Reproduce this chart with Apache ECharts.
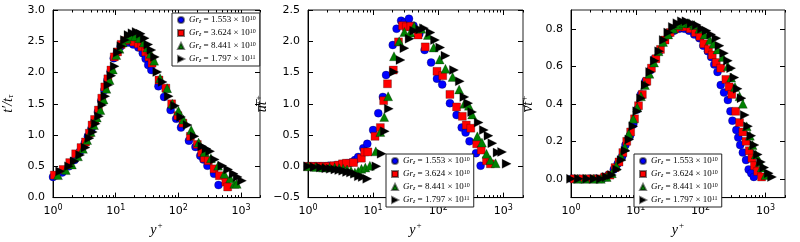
<!DOCTYPE html>
<html>
<head>
<meta charset="utf-8">
<script src="https://cdn.jsdelivr.net/npm/echarts@6/dist/echarts.min.js"></script>
<style>
html, body { margin: 0; padding: 0; background: #fff; }
#chart { width: 800px; height: 242px; }
</style>
</head>
<body>
<div id="chart"></div>
<script>
// legend labels: Gr_z = mantissa x 10^exp
const grMant = ['1.553', '3.624', '8.441', '1.797']
const grExp = ['10', '10', '10', '11']
const colors = ['#0000ff', '#ff0000', '#008000', '#000000']

// panel 1: t'/t_tau
const tX1 = [1.0, 1.4, 1.8, 2.2, 2.7, 3.2, 3.6, 4.1, 4.6, 5.2, 5.9, 6.6, 7.4, 8.3, 9.3, 10.5, 12, 13.5, 16, 19, 23, 27, 30, 33, 37, 48, 59, 75, 92, 110, 147, 187, 223, 250, 290, 370, 436]
const tY1 = [0.33, 0.40, 0.50, 0.60, 0.74, 0.87, 0.98, 1.10, 1.22, 1.37, 1.55, 1.72, 1.88, 2.02, 2.23, 2.32, 2.42, 2.47, 2.48, 2.45, 2.40, 2.31, 2.22, 2.12, 2.04, 1.78, 1.61, 1.40, 1.26, 1.12, 0.91, 0.81, 0.67, 0.61, 0.51, 0.38, 0.20]
const tX2 = [1.05, 1.45, 1.85, 2.3, 2.8, 3.3, 3.8, 4.2, 4.6, 5.3, 6.0, 6.7, 7.5, 8.4, 9.5, 10.7, 12.2, 14, 16.5, 19.5, 23, 26, 30, 34, 38, 49, 63, 78, 98, 118, 155, 200, 235, 260, 300, 370, 450, 570, 610]
const tY2 = [0.36, 0.45, 0.56, 0.70, 0.80, 0.89, 1.03, 1.16, 1.25, 1.40, 1.59, 1.77, 1.90, 2.04, 2.25, 2.33, 2.45, 2.51, 2.52, 2.49, 2.46, 2.41, 2.33, 2.25, 2.15, 1.88, 1.75, 1.50, 1.31, 1.19, 0.98, 0.85, 0.72, 0.63, 0.59, 0.46, 0.35, 0.25, 0.17]
const tX3 = [1.2, 1.6, 2.0, 2.5, 3.0, 3.5, 4.0, 4.5, 5.0, 5.7, 6.4, 7.1, 8.0, 9.0, 10.2, 11.5, 13, 15, 17.5, 20.5, 24, 28, 32, 36, 41, 51, 66, 80, 100, 120, 160, 210, 260, 330, 430, 540, 670, 780, 850]
const tY3 = [0.36, 0.44, 0.53, 0.66, 0.78, 0.92, 1.05, 1.16, 1.28, 1.40, 1.57, 1.74, 1.88, 2.05, 2.28, 2.38, 2.48, 2.54, 2.58, 2.58, 2.55, 2.48, 2.40, 2.30, 2.19, 1.91, 1.75, 1.50, 1.39, 1.25, 1.08, 0.88, 0.73, 0.63, 0.51, 0.38, 0.31, 0.22, 0.22]
const tX4 = [1.3, 1.8, 2.2, 2.7, 3.3, 3.8, 4.3, 4.8, 5.4, 6.1, 6.8, 7.6, 8.5, 9.6, 10.8, 12.3, 14, 16, 18.5, 21.5, 25, 29, 33, 37, 42, 46, 56, 70, 88, 110, 140, 180, 240, 280, 320, 380, 500, 620, 760, 880, 1030]
const tY4 = [0.42, 0.50, 0.58, 0.68, 0.80, 0.95, 1.05, 1.18, 1.30, 1.48, 1.62, 1.80, 1.95, 2.10, 2.32, 2.42, 2.52, 2.60, 2.63, 2.65, 2.62, 2.55, 2.45, 2.36, 2.25, 2.01, 1.85, 1.62, 1.47, 1.29, 1.16, 0.98, 0.82, 0.78, 0.74, 0.61, 0.51, 0.45, 0.38, 0.33, 0.27]

// panel 2: streamwise heat flux
const utX1 = [1.0, 1.2, 1.45, 1.74, 2.09, 2.51, 2.95, 3.47, 3.98, 4.57, 5.25, 5.89, 7.08, 8.13, 10, 12, 14.1, 15.8, 20, 22.9, 26.9, 30.2, 35.5, 41.7, 51.3, 61.7, 77.6, 95.5, 115, 151, 191, 229, 263, 302, 380, 447]
const utY1 = [0.0, 0.0, 0.0, 0.0, 0.01, 0.01, 0.02, 0.03, 0.05, 0.06, 0.10, 0.15, 0.29, 0.36, 0.58, 0.85, 1.11, 1.46, 1.94, 2.20, 2.33, 2.30, 2.36, 2.25, 2.12, 1.86, 1.66, 1.40, 1.31, 1.01, 0.82, 0.62, 0.54, 0.40, 0.21, 0.01]
const utX2 = [1.0, 1.2, 1.45, 1.74, 2.09, 2.51, 2.95, 3.39, 3.89, 5.01, 6.61, 7.41, 8.32, 10.7, 12.9, 14.5, 16.6, 20.4, 24.5, 28.2, 32.4, 38, 49, 63.1, 95.5, 117, 151, 191, 234, 269, 316, 389, 457, 550, 631]
const utY2 = [0.0, 0.0, 0.0, 0.0, 0.0, 0.01, 0.02, 0.04, 0.05, 0.06, 0.13, 0.23, 0.23, 0.48, 0.62, 1.05, 1.32, 1.54, 1.99, 2.25, 2.23, 2.24, 2.10, 1.91, 1.52, 1.45, 1.15, 0.95, 0.80, 0.66, 0.61, 0.36, 0.26, 0.09, 0.04]
const utX3 = [1.0, 1.32, 1.70, 2.14, 2.57, 3.02, 3.47, 3.98, 4.57, 5.25, 5.89, 6.61, 7.59, 8.91, 11, 12.9, 14.8, 17, 20.9, 25.1, 30.2, 37.2, 42.7, 55, 69.2, 85.1, 105, 129, 166, 209, 251, 295, 331, 398, 468, 550, 631, 759]
const utY3 = [0.0, -0.01, -0.02, -0.02, -0.02, -0.03, -0.04, -0.05, -0.07, -0.10, -0.08, -0.04, -0.02, 0.01, 0.24, 0.55, 0.79, 1.12, 1.76, 2.00, 2.15, 2.14, 2.24, 2.20, 2.10, 1.90, 1.71, 1.56, 1.43, 1.23, 1.00, 0.97, 0.83, 0.48, 0.38, 0.20, 0.10, 0.05]
const utX4 = [1.0, 1.26, 1.58, 1.91, 2.24, 2.63, 3.02, 3.47, 3.98, 4.57, 5.25, 6.03, 6.92, 8.13, 11.2, 13.5, 15.1, 17.4, 20.9, 26.3, 30.2, 36.3, 42.7, 52.5, 60.3, 75.9, 89.1, 107, 129, 174, 214, 251, 288, 331, 417, 501, 589, 676, 813, 955, 1122]
const utY4 = [0.0, -0.01, -0.02, -0.03, -0.04, -0.05, -0.06, -0.07, -0.09, -0.10, -0.12, -0.16, -0.17, -0.20, 0.0, 0.20, 0.56, 0.92, 1.51, 1.70, 1.89, 2.04, 2.17, 2.19, 2.21, 2.14, 2.02, 1.90, 1.77, 1.54, 1.36, 1.11, 1.01, 0.87, 0.70, 0.58, 0.49, 0.37, 0.22, 0.23, 0.04]

// panel 3: wall-normal heat flux
const vtX1 = [1.04, 1.35, 1.86, 2.4, 3.02, 3.8, 4.57, 5.25, 6.17, 6.92, 8.13, 9.12, 10.5, 12, 14.1, 17, 19.5, 22.9, 27.5, 32.4, 38.9, 46.8, 56.2, 66.1, 79.4, 95.5, 110, 129, 145, 162, 182, 204, 229, 263, 288, 309, 355, 380, 407, 447, 501, 550, 603, 661]
const vtY1 = [0.0, 0.0, 0.0, 0.0, 0.0, 0.02, 0.05, 0.08, 0.12, 0.18, 0.23, 0.29, 0.37, 0.45, 0.52, 0.58, 0.64, 0.68, 0.74, 0.77, 0.79, 0.80, 0.80, 0.79, 0.77, 0.75, 0.71, 0.68, 0.65, 0.61, 0.57, 0.50, 0.46, 0.42, 0.36, 0.31, 0.26, 0.22, 0.18, 0.14, 0.10, 0.05, 0.03, 0.01]
const vtX2 = [1.12, 1.51, 2.0, 2.63, 3.31, 3.98, 4.79, 5.5, 6.31, 7.24, 8.32, 9.55, 11, 12.6, 14.8, 17.4, 20.4, 24, 28.2, 33.9, 39.8, 47.9, 57.5, 69.2, 83.2, 97.7, 112, 132, 151, 174, 204, 245, 275, 302, 347, 398, 447, 501, 562, 617, 676, 759, 871]
const vtY2 = [0.0, 0.0, 0.0, 0.0, 0.01, 0.02, 0.06, 0.09, 0.14, 0.20, 0.25, 0.32, 0.39, 0.45, 0.52, 0.59, 0.64, 0.69, 0.74, 0.78, 0.80, 0.81, 0.81, 0.80, 0.78, 0.76, 0.72, 0.69, 0.66, 0.62, 0.59, 0.53, 0.49, 0.45, 0.36, 0.30, 0.25, 0.20, 0.15, 0.11, 0.07, 0.04, 0.01]
const vtX3 = [1.26, 1.66, 2.24, 2.88, 3.55, 4.27, 5.01, 5.89, 6.76, 7.76, 9.12, 10.5, 12, 13.8, 16.2, 19.1, 22.4, 26.3, 31.6, 38, 45.7, 55, 66.1, 79.4, 95.5, 115, 138, 158, 182, 219, 263, 295, 339, 398, 447, 513, 575, 631, 708, 813, 871, 1000]
const vtY3 = [0.0, 0.0, 0.0, 0.0, 0.01, 0.03, 0.07, 0.12, 0.17, 0.24, 0.32, 0.38, 0.44, 0.50, 0.56, 0.62, 0.68, 0.73, 0.77, 0.80, 0.82, 0.83, 0.83, 0.82, 0.80, 0.77, 0.74, 0.72, 0.69, 0.65, 0.60, 0.54, 0.49, 0.44, 0.40, 0.28, 0.23, 0.18, 0.13, 0.09, 0.06, 0.02]
const vtX4 = [1.0, 1.32, 1.78, 2.29, 2.88, 3.55, 4.27, 5.13, 6.03, 6.92, 7.94, 9.12, 10.5, 12, 14.1, 16.6, 19.5, 22.9, 26.9, 31.6, 37.2, 43.7, 51.3, 60.3, 72.4, 87.1, 105, 123, 145, 174, 195, 229, 263, 295, 331, 372, 427, 479, 537, 603, 676, 759, 851, 955, 1122, 1259]
const vtY4 = [0.0, 0.0, 0.0, 0.0, 0.0, 0.01, 0.02, 0.05, 0.10, 0.15, 0.21, 0.28, 0.36, 0.43, 0.50, 0.57, 0.63, 0.68, 0.74, 0.78, 0.81, 0.83, 0.84, 0.84, 0.83, 0.82, 0.80, 0.79, 0.77, 0.75, 0.71, 0.67, 0.63, 0.59, 0.54, 0.48, 0.43, 0.34, 0.28, 0.23, 0.18, 0.13, 0.09, 0.06, 0.03, 0.01]

const xMajor = [1, 10, 100, 1000]
const xMinor = [2, 3, 4, 5, 6, 7, 8, 9, 20, 30, 40, 50, 60, 70, 80, 90, 200, 300, 400, 500, 600, 700, 800, 900, 2000]

const symbols = ['circle', 'rect', 'triangle', 'path://M0,0L10,5L0,10Z']
const symbolSizes = [8, 8, 9, 9]
const grNames = grMant.map((m, i) => 'Gr' + i)

const panels = [
  { xs: [tX1, tX2, tX3, tX4], ys: [tY1, tY2, tY3, tY4], left: 48, width: 212, min: 0, max: 3, ticks: [0, 0.5, 1, 1.5, 2, 2.5, 3],
    yname: '{i|t\u2032/t}{sub|\u03c4}', nameGap: 38, legend: { left: 172, top: 13 } },
  { xs: [utX1, utX2, utX3, utX4], ys: [utY1, utY2, utY3, utY4], left: 308, width: 215, min: -0.5, max: 2.5, ticks: [-0.5, 0, 0.5, 1, 1.5, 2, 2.5],
    yname: '{i|u\u0305t\u0305}{sup|+}', nameGap: 36, legend: { left: 386, top: 154 } },
  { xs: [vtX1, vtX2, vtX3, vtX4], ys: [vtY1, vtY2, vtY3, vtY4], left: 571, width: 214, min: -0.1, max: 0.9, ticks: [0, 0.2, 0.4, 0.6, 0.8],
    yname: '{i|v\u0305t\u0305}{sup|+}', nameGap: 34, legend: { left: 634, top: 154 } }
]

const black = { color: '#000', width: 1 }
const serif = 'Liberation Serif'

const grids = []
const xAxes = []
const yAxes = []
const series = []
const legends = []

const logLabel = v => '{b|10}{s|' + Math.round(Math.log10(v)) + '}'

panels.forEach((p, pi) => {
  grids.push({ left: p.left, top: 10, width: p.width, height: 193, show: true, borderColor: '#222', borderWidth: 1 })

  // bottom major, bottom minor, top major, top minor
  ;[['bottom', xMajor, 5, true], ['bottom', xMinor, 2.5, false], ['top', xMajor, 5, false], ['top', xMinor, 2.5, false]].forEach(([pos, vals, len, main]) => {
    xAxes.push({
      type: 'log', logBase: 10, gridIndex: pi, min: 1, max: 2000, position: pos,
      axisLine: { show: main, onZero: false, lineStyle: black },
      axisTick: { show: true, inside: true, length: len, customValues: vals, lineStyle: black },
      axisLabel: main ? {
        show: true, customValues: xMajor, margin: 6, formatter: logLabel,
        rich: {
          b: { fontFamily: 'DejaVu Sans', fontSize: 11, color: '#000' },
          s: { fontFamily: 'DejaVu Sans', fontSize: 8, color: '#000', padding: [0, 0, 7, 0] }
        }
      } : { show: false },
      splitLine: { show: false },
      name: main ? '{i|y}{sup|+}' : '',
      nameLocation: 'middle', nameGap: 20,
      nameTextStyle: {
        rich: {
          i: { fontFamily: serif, fontStyle: 'italic', fontSize: 14, color: '#000' },
          sup: { fontFamily: serif, fontSize: 9, color: '#000', padding: [0, 0, 8, 1] }
        }
      }
    })
  })

  ;['left', 'right'].forEach(pos => {
    const main = pos === 'left'
    yAxes.push({
      type: 'value', gridIndex: pi, min: p.min, max: p.max, position: pos,
      axisLine: { show: main, onZero: false, lineStyle: black },
      axisTick: { show: true, inside: true, length: 5, customValues: p.ticks, lineStyle: black },
      axisLabel: main ? {
        show: true, customValues: p.ticks, margin: 8, color: '#000', fontFamily: 'DejaVu Sans', fontSize: 11,
        formatter: v => (v < 0 ? '\u2212' : '') + Math.abs(v).toFixed(1)
      } : { show: false },
      splitLine: { show: false },
      name: main ? p.yname : '',
      nameLocation: 'middle', nameGap: p.nameGap, nameRotate: 90,
      nameTextStyle: {
        rich: {
          i: { fontFamily: serif, fontStyle: 'italic', fontSize: 14, color: '#000' },
          sub: { fontFamily: serif, fontStyle: 'italic', fontSize: 9, color: '#000', padding: [5, 0, 0, 0] },
          sup: { fontFamily: serif, fontSize: 9, color: '#000', padding: [0, 0, 8, 1] }
        }
      }
    })
  })

  p.xs.forEach((xs, k) => {
    series.push({
      name: grNames[k],
      type: 'scatter',
      xAxisIndex: pi * 4,
      yAxisIndex: pi * 2,
      symbol: symbols[k],
      symbolSize: symbolSizes[k],
      itemStyle: { color: colors[k], borderColor: 'rgba(0,0,0,0.5)', borderWidth: 0.5, opacity: 1 },
      data: xs.map((x, i) => [x, p.ys[k][i]])
    })
  })

  legends.push({
    orient: 'vertical', left: p.legend.left, top: p.legend.top,
    itemWidth: 6, itemHeight: 6, itemGap: 3, padding: [2, 4, 2, 5],
    borderColor: '#222', borderWidth: 1, borderRadius: 0, backgroundColor: '#fff',
    selectedMode: false, data: grNames,
    formatter: name => {
      const k = grNames.indexOf(name)
      return '{i|Gr}{sub|z}{n| = ' + grMant[k] + ' \u00d7 10}{sup|' + grExp[k] + '}'
    },
    textStyle: {
      lineHeight: 8,
      rich: {
        i: { fontFamily: serif, fontStyle: 'italic', fontSize: 9, lineHeight: 8, color: '#000' },
        sub: { fontFamily: serif, fontStyle: 'italic', fontSize: 6, lineHeight: 8, color: '#000', padding: [3, 0, 0, 0] },
        n: { fontFamily: serif, fontSize: 9, lineHeight: 8, color: '#000' },
        sup: { fontFamily: serif, fontSize: 6, lineHeight: 8, color: '#000', padding: [0, 0, 4, 0] }
      }
    }
  })
})

const chart = echarts.init(document.getElementById('chart'))
chart.setOption({
  animation: false,
  backgroundColor: '#fff',
  grid: grids,
  xAxis: xAxes,
  yAxis: yAxes,
  legend: legends,
  series: series
})
</script>
</body>
</html>
